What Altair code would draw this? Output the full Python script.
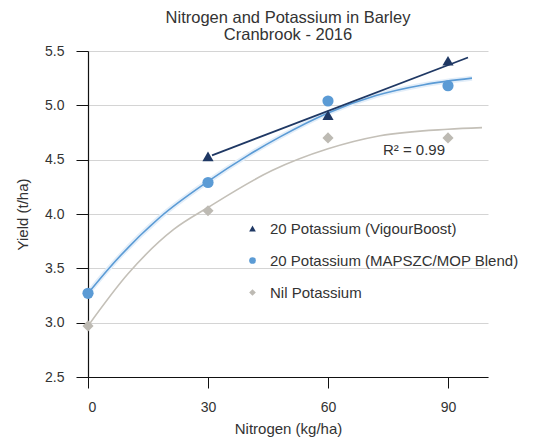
import altair as alt
import pandas as pd

# ---- data ----
N_RATES = [0, 30, 60, 90]
VIGOUR_N = [30, 60, 90]
VIGOUR_YIELD = [4.53, 4.91, 5.41]
BLEND_YIELD = [3.27, 4.29, 5.04, 5.18]
NIL_YIELD = [2.97, 4.03, 4.70, 4.70]

SERIES = ["20 Potassium (VigourBoost)", "20 Potassium (MAPSZC/MOP Blend)", "Nil Potassium"]

# trendlines
VIGOUR_TREND_N = [31, 95]
VIGOUR_TREND_Y = [4.54, 5.44]
BLEND_TREND_N = [0, 5, 18, 30, 40, 48, 60, 72, 84, 96]
BLEND_TREND_Y = [3.27, 3.49, 3.97, 4.30, 4.54, 4.71, 4.93, 5.09, 5.19, 5.25]
NIL_TREND_N = [0, 10, 21.5, 30, 46, 60, 73, 90, 98.5]
NIL_TREND_Y = [2.97, 3.45, 3.86, 4.06, 4.40, 4.60, 4.72, 4.78, 4.795]

R2_LABEL = "R\u00b2 = 0.99"

Y_TICKS = [2.5, 3.0, 3.5, 4.0, 4.5, 5.0, 5.5]
X_TICKS = [0, 30, 60, 90]

FONT = "Liberation Sans"
TXT = "#333333"

points = pd.DataFrame(
    [{"N": n, "Yield": y, "Series": SERIES[0]} for n, y in zip(VIGOUR_N, VIGOUR_YIELD)]
    + [{"N": n, "Yield": y, "Series": SERIES[1]} for n, y in zip(N_RATES, BLEND_YIELD)]
    + [{"N": n, "Yield": y, "Series": SERIES[2]} for n, y in zip(N_RATES, NIL_YIELD)]
)
vig_tr = pd.DataFrame({"N": VIGOUR_TREND_N, "Yield": VIGOUR_TREND_Y})
bl_tr = pd.DataFrame({"N": BLEND_TREND_N, "Yield": BLEND_TREND_Y})
nil_tr = pd.DataFrame({"N": NIL_TREND_N, "Yield": NIL_TREND_Y})
r2 = pd.DataFrame({"N": [81.5], "Yield": [4.59], "label": [R2_LABEL]})

xscale = alt.Scale(domain=[0, 100], nice=False, zero=False)
yscale = alt.Scale(domain=[2.5, 5.5], nice=False, zero=False)

x_enc = alt.X(
    "N:Q",
    scale=xscale,
    title="Nitrogen (kg/ha)",
    axis=alt.Axis(
        values=X_TICKS, grid=False, domainColor="#111", domainWidth=1.2,
        tickColor="#111", tickSize=11, labelPadding=12, labelFontSize=14,
        labelColor=TXT, labelFont=FONT, titleFont=FONT, titleFontSize=15,
        titleFontWeight="normal", titleColor=TXT, titlePadding=7,
    ),
)
y_enc = alt.Y(
    "Yield:Q",
    scale=yscale,
    title="Yield (t/ha)",
    axis=alt.Axis(
        values=Y_TICKS, format=".1f", grid=True, gridColor="#d4d4d4",
        domainColor="#111", domainWidth=1.2, tickColor="#111", tickSize=12,
        labelPadding=12, labelFontSize=14, labelColor=TXT, labelFont=FONT,
        titleFont=FONT, titleFontSize=15, titleFontWeight="normal",
        titleColor=TXT, titlePadding=14,
    ),
)

base_x = alt.X("N:Q", scale=xscale)
base_y = alt.Y("Yield:Q", scale=yscale)

nil_line = alt.Chart(nil_tr).mark_line(
    color="#c4c0b8", strokeWidth=1.6, interpolate="monotone"
).encode(x=x_enc, y=y_enc)

blend_glow = alt.Chart(bl_tr).mark_line(
    color="#e3eef9", strokeWidth=5, interpolate="monotone"
).encode(x=base_x, y=base_y)
blend_line = alt.Chart(bl_tr).mark_line(
    color="#5b9bd5", strokeWidth=1.6, interpolate="monotone"
).encode(x=base_x, y=base_y)

vig_line = alt.Chart(vig_tr).mark_line(
    color="#1f3864", strokeWidth=1.8
).encode(x=base_x, y=base_y)

legend_kw = dict(
    title=None, orient="none", legendX=157, legendY=170,
    labelFont=FONT, labelFontSize=15, labelColor=TXT, labelLimit=0,
    symbolSize=45, rowPadding=16, labelOffset=10,
)

pts = alt.Chart(points).mark_point(filled=True, opacity=1, size=125).encode(
    x=base_x,
    y=base_y,
    color=alt.Color(
        "Series:N",
        scale=alt.Scale(domain=SERIES, range=["#1f3864", "#5b9bd5", "#bdbab3"]),
        legend=alt.Legend(**legend_kw),
    ),
    shape=alt.Shape(
        "Series:N",
        scale=alt.Scale(domain=SERIES, range=["triangle-up", "circle", "diamond"]),
        legend=alt.Legend(**legend_kw),
    ),
)

r2_text = alt.Chart(r2).mark_text(
    font=FONT, fontSize=15, color=TXT
).encode(x=base_x, y=base_y, text="label:N")

chart = (
    alt.layer(nil_line, blend_glow, blend_line, vig_line, pts, r2_text)
    .properties(
        width=400,
        height=326,
        autosize=alt.AutoSizeParams(type="none"),
        padding={"left": 80, "top": 43, "right": 42, "bottom": 62},
        title=alt.TitleParams(
            ["Nitrogen and Potassium in Barley", "Cranbrook - 2016"],
            font=FONT, fontSize=16.5, fontWeight="normal", color=TXT,
            anchor="middle", offset=1, lineHeight=17,
        ),
    )
    .configure_view(stroke=None)
)

chart.save("out.html", embed_options={"renderer": "svg", "actions": False})
